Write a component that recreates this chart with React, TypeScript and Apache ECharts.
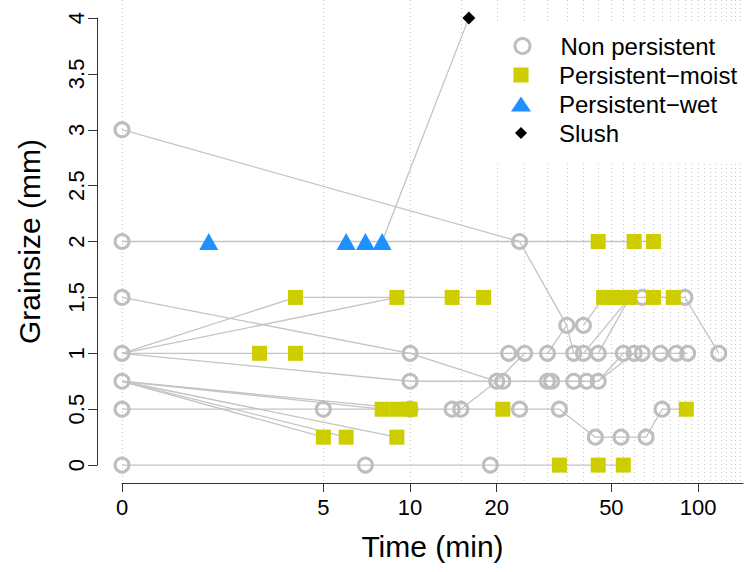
import React, { useEffect, useRef } from 'react';
import * as echarts from 'echarts';

// ---- data (time in minutes, grain size in mm) ----
const xTickValues = [0, 5, 10, 20, 50, 100];
const gridTimes = [0, 5, 10, 15, 20, 25, 30, 35, 40, 45, 50, 55, 60, 65, 70, 75, 80, 85, 90, 95, 100, 105, 110, 115, 120, 125, 130, 135, 140];

const nonPersistent: number[][] = [
  [0, 3], [0, 2], [24, 2], [0, 1.5], [64, 1.5], [90, 1.5], [35, 1.25], [40, 1.25],
  [0, 1], [10, 1], [22, 1], [25, 1], [30, 1], [37, 1], [40, 1], [45, 1], [55, 1], [60, 1], [64, 1], [74, 1], [84, 1], [92, 1], [118, 1],
  [0, 0.75], [10, 0.75], [20, 0.75], [21, 0.75], [30, 0.75], [31, 0.75], [37, 0.75], [41, 0.75], [45, 0.75],
  [0, 0.5], [5, 0.5], [10, 0.5], [14, 0.5], [15, 0.5], [24, 0.5], [33, 0.5], [75, 0.5],
  [44, 0.25], [54, 0.25], [66, 0.25],
  [0, 0], [7, 0], [19, 0],
];
const persistentMoist: number[][] = [
  [45, 2], [60, 2], [70, 2],
  [4, 1.5], [9, 1.5], [14, 1.5], [18, 1.5], [47, 1.5], [50, 1.5], [54, 1.5], [58, 1.5], [70, 1.5], [82, 1.5],
  [3, 1], [4, 1],
  [8, 0.5], [9, 0.5], [10, 0.5], [21, 0.5], [91, 0.5],
  [5, 0.25], [6, 0.25], [9, 0.25],
  [33, 0], [45, 0], [55, 0],
];
const persistentWet: number[][] = [[2, 2], [6, 2], [7, 2], [8, 2]];
const slush: number[][] = [[16, 4]];

const tracks: number[][][] = [
  [[0, 0], [7, 0], [19, 0], [33, 0], [45, 0], [55, 0]],
  [[0, 0.5], [5, 0.5], [8, 0.5], [9, 0.5], [10, 0.5], [14, 0.5], [15, 0.5], [21, 0.5], [24, 0.5], [33, 0.5], [44, 0.25], [54, 0.25], [66, 0.25], [75, 0.5], [91, 0.5]],
  [[0, 0.75], [5, 0.25]],
  [[0, 0.75], [6, 0.25]],
  [[0, 0.75], [9, 0.25]],
  [[0, 0.75], [8, 0.5]],
  [[0, 0.75], [10, 0.5]],
  [[0, 1], [3, 1], [4, 1], [10, 1], [22, 1], [25, 1], [30, 1], [37, 1], [40, 1], [45, 1], [55, 1], [60, 1], [64, 1], [74, 1], [84, 1], [92, 1]],
  [[0, 1], [4, 1.5], [9, 1.5], [14, 1.5], [18, 1.5]],
  [[0, 1], [9, 1.5]],
  [[0, 1], [10, 0.75], [20, 0.75], [21, 0.75], [30, 0.75], [31, 0.75], [37, 0.75], [41, 0.75], [45, 0.75]],
  [[0, 1.5], [10, 1], [20, 0.75]],
  [[15, 0.5], [20, 0.75], [25, 1]],
  [[0, 2], [2, 2], [6, 2], [7, 2], [8, 2], [16, 4]],
  [[8, 2], [24, 2], [45, 2], [60, 2], [70, 2]],
  [[0, 3], [24, 2], [35, 1.25], [37, 1]],
  [[30, 1], [35, 1.25]],
  [[40, 1.25], [47, 1.5]],
  [[40, 1], [58, 1.5]],
  [[45, 1], [58, 1.5]],
  [[45, 0.75], [55, 1]],
  [[45, 0.75], [60, 1]],
  [[47, 1.5], [50, 1.5], [54, 1.5], [58, 1.5], [64, 1.5], [70, 1.5], [82, 1.5], [90, 1.5], [118, 1]],
];

const FONT = '"Liberation Sans", Arial, Helvetica, sans-serif';
const GREY = '#bebebe';
const MOIST = '#CDCD00';
const WET = '#1E90FF';
const X_MIN_PLOT = 0.8187;
const X_MAX_PLOT = 143.2;

// time 0 is drawn at 1 on the log axis
const toAxis = (t: number) => (t === 0 ? 1 : t);
const conv = (arr: number[][]) => arr.map(([t, v]) => [toAxis(t), v]);

export default function App() {
  const ref = useRef<HTMLDivElement>(null);
  useEffect(() => {
    if (!ref.current) return;
    const chart = echarts.init(ref.current, undefined, { renderer: 'svg' });

    const lineSeries = tracks.map((tr, i) => ({
      type: 'line',
      name: 'track' + i,
      xAxisIndex: 0,
      yAxisIndex: 0,
      data: conv(tr),
      symbol: 'none',
      silent: true,
      lineStyle: { color: '#c4c4c4', width: 1.3 },
      z: 2,
    }));

    const legendItem = (name: string, icon: string, cy: number, w: number, h: number, itemStyle: any) => ({
      left: 521 - w / 2,
      top: cy - 12,
      orient: 'vertical',
      padding: 0,
      itemWidth: w,
      itemHeight: h,
      selectedMode: false,
      data: [{ name, icon, itemStyle }],
      textStyle: {
        fontSize: 24,
        fontFamily: FONT,
        color: '#000',
        padding: [0, 0, 0, 559 - (521 + w / 2 + 5)],
      },
      z: 5,
    });

    const option: any = {
      animation: false,
      backgroundColor: '#ffffff',
      grid: [
        { left: 97, right: 1, top: 0, bottom: 89 },
        { left: 122, right: 1, top: 18, bottom: 107 },
      ],
      xAxis: [
        {
          gridIndex: 0,
          type: 'log',
          logBase: 10,
          min: X_MIN_PLOT,
          max: X_MAX_PLOT,
          axisLine: { show: false },
          axisTick: { show: false, customValues: gridTimes.map(toAxis) },
          axisLabel: { show: false },
          splitLine: { show: true, lineStyle: { color: '#c8c8c8', width: 1, type: [1, 3] } },
        },
        {
          gridIndex: 1,
          type: 'log',
          logBase: 10,
          min: 1,
          max: X_MAX_PLOT,
          offset: 18,
          axisLine: { show: true, onZero: false, lineStyle: { color: '#333', width: 1 } },
          axisTick: { show: true, length: 9, customValues: xTickValues.map(toAxis), lineStyle: { color: '#333', width: 1 } },
          axisLabel: {
            customValues: xTickValues.map(toAxis),
            formatter: (v: number) => {
              const r = Math.round(v);
              return r === 1 ? '0' : String(r);
            },
            fontSize: 22,
            fontFamily: FONT,
            color: '#000',
            margin: 13,
          },
          splitLine: { show: false },
          name: 'Time (min)',
          nameLocation: 'middle',
          nameGap: 48,
          nameTextStyle: { fontSize: 30, fontFamily: FONT, color: '#000' },
        },
      ],
      yAxis: [
        { gridIndex: 0, type: 'value', min: -0.16, max: 4.16, show: false },
        {
          gridIndex: 1,
          type: 'value',
          min: 0,
          max: 4,
          interval: 0.5,
          offset: 25,
          axisLine: { show: true, onZero: false, lineStyle: { color: '#333', width: 1 } },
          axisTick: { show: true, length: 9, lineStyle: { color: '#333', width: 1 } },
          axisLabel: { rotate: 90, fontSize: 22, fontFamily: FONT, color: '#000', margin: 10 },
          splitLine: { show: false },
          name: 'Grainsize (mm)',
          nameLocation: 'middle',
          nameGap: 53,
          nameRotate: 90,
          nameTextStyle: { fontSize: 30, fontFamily: FONT, color: '#000' },
        },
      ],
      legend: [
        legendItem('Non persistent', 'circle', 46, 15, 15, { color: 'rgba(0,0,0,0)', borderColor: GREY, borderWidth: 3 }),
        legendItem('Persistent−moist', 'rect', 75, 15, 15, { color: MOIST }),
        legendItem('Persistent−wet', 'triangle', 104, 20, 15, { color: WET }),
        legendItem('Slush', 'diamond', 133, 12, 12, { color: '#000' }),
      ],
      graphic: [
        { type: 'rect', shape: { x: 490, y: 22, width: 254, height: 142 }, style: { fill: '#ffffff' }, z: 1, silent: true },
      ],
      series: [
        ...lineSeries,
        {
          type: 'scatter',
          name: 'Non persistent',
          xAxisIndex: 0,
          yAxisIndex: 0,
          data: conv(nonPersistent),
          symbol: 'circle',
          symbolSize: 14,
          itemStyle: { color: 'rgba(0,0,0,0)', borderColor: GREY, borderWidth: 3, opacity: 1 },
          z: 3,
        },
        {
          type: 'scatter',
          name: 'Persistent−moist',
          xAxisIndex: 0,
          yAxisIndex: 0,
          data: conv(persistentMoist),
          symbol: 'rect',
          symbolSize: 15,
          itemStyle: { color: MOIST, opacity: 1 },
          z: 3,
        },
        {
          type: 'scatter',
          name: 'Persistent−wet',
          xAxisIndex: 0,
          yAxisIndex: 0,
          data: conv(persistentWet),
          symbol: 'triangle',
          symbolSize: [19, 17],
          itemStyle: { color: WET, opacity: 1 },
          z: 3,
        },
        {
          type: 'scatter',
          name: 'Slush',
          xAxisIndex: 0,
          yAxisIndex: 0,
          data: conv(slush),
          symbol: 'diamond',
          symbolSize: 13,
          itemStyle: { color: '#000', opacity: 1 },
          z: 3,
        },
      ],
    };

    chart.setOption(option);
    return () => chart.dispose();
  }, []);

  return (
    <div
      ref={ref}
      style={{ position: 'absolute', left: 0, top: 0, width: 744, height: 572, background: '#fff' }}
    />
  );
}
